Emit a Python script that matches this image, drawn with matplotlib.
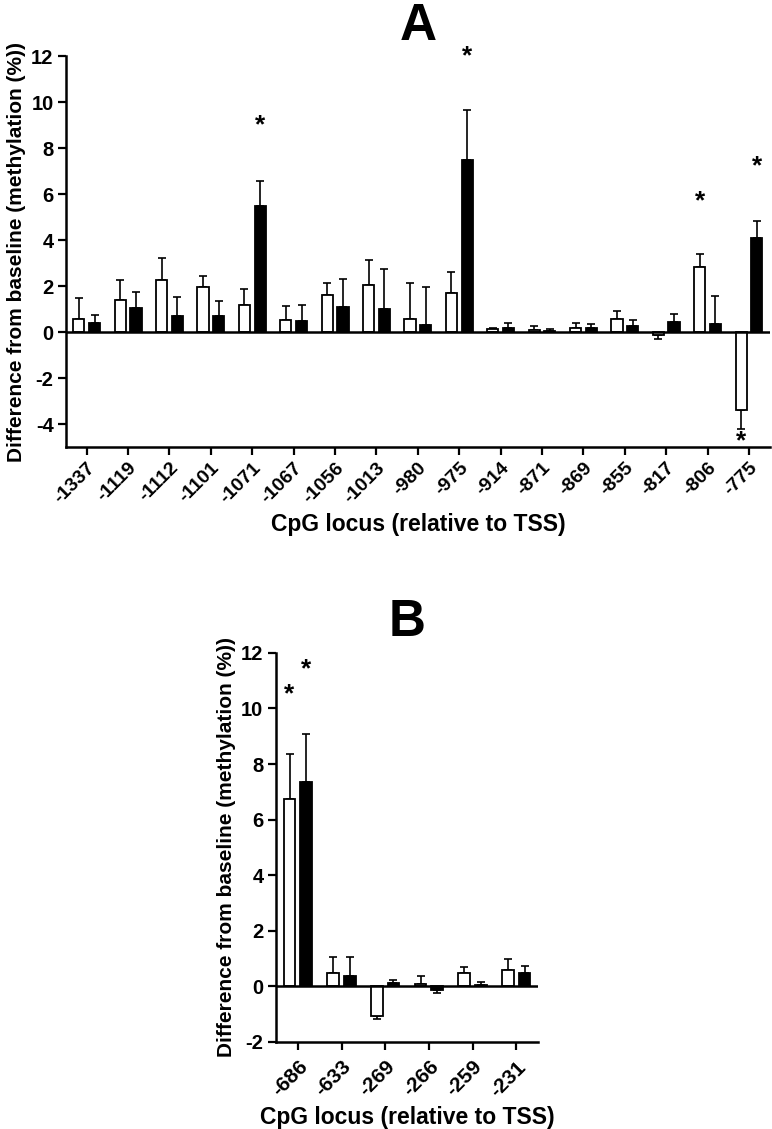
import numpy as np
import matplotlib
matplotlib.use("Agg")
import matplotlib.pyplot as plt

plt.rcParams["font.family"] = ["Liberation Sans", "DejaVu Sans"]
plt.rcParams["font.weight"] = "bold"
plt.rcParams["axes.unicode_minus"] = False

# Panel A: CpG loci (relative to TSS)
loci_a = ["-1337", "-1119", "-1112", "-1101", "-1071", "-1067", "-1056", "-1013",
          "-980", "-975", "-914", "-871", "-869", "-855", "-817", "-806", "-775"]
white_a = [0.59, 1.38, 2.26, 1.96, 1.20, 0.52, 1.61, 2.04, 0.59, 1.72,
           0.12, 0.09, 0.20, 0.57, -0.12, 2.84, -3.40]
white_a_err = [0.90, 0.87, 0.97, 0.49, 0.70, 0.64, 0.52, 1.08, 1.57, 0.90,
               0.07, 0.16, 0.18, 0.37, 0.17, 0.58, 0.83]
black_a = [0.41, 1.06, 0.70, 0.71, 5.47, 0.48, 1.09, 1.03, 0.33, 7.51,
           0.17, 0.06, 0.17, 0.26, 0.45, 0.35, 4.08]
black_a_err = [0.33, 0.68, 0.81, 0.65, 1.13, 0.72, 1.21, 1.74, 1.63, 2.17,
               0.24, 0.09, 0.18, 0.25, 0.36, 1.24, 0.77]
# significance marks: (locus index, series, y)
stars_a = [(4, "black", 9.0), (9, "black", 12.0), (15, "white", 5.7),
           (16, "black", 7.2), (16, "white", -4.75)]

# Panel B
loci_b = ["-686", "-633", "-269", "-266", "-259", "-231"]
white_b = [6.74, 0.47, -1.05, 0.10, 0.47, 0.59]
white_b_err = [1.61, 0.60, 0.11, 0.28, 0.21, 0.40]
black_b = [7.37, 0.38, 0.13, -0.14, 0.06, 0.47]
black_b_err = [1.71, 0.67, 0.10, 0.11, 0.10, 0.25]
stars_b = [(0, "white", 10.5), (0, "black", 11.4)]

W = 0.27      # bar width (group units)
OFF = 0.19    # half distance between paired bars


def one_sided(vals, errs):
    v = np.asarray(vals); e = np.asarray(errs)
    lower = np.where(v < 0, e, 0)
    upper = np.where(v >= 0, e, 0)
    return [lower, upper]


def panel(ax, loci, white, werr, black, berr, stars, ylim, yticks, title, xts, xpad):
    x = np.arange(len(loci))
    for xs, vals, errs, fc in ((x - OFF, white, werr, "white"),
                               (x + OFF, black, berr, "black")):
        ax.bar(xs, vals, W, color=fc, edgecolor="black", linewidth=1.3, zorder=2)
        ax.errorbar(xs, vals, yerr=one_sided(vals, errs), fmt="none",
                    ecolor="black", elinewidth=1.2, capsize=3, capthick=1.2, zorder=1)
    for i, s, y in stars:
        xi = i - OFF if s == "white" else i + OFF
        ax.text(xi, y, "*", ha="center", va="center", fontsize=19, fontweight="bold")
    ax.axhline(0, color="black", linewidth=1.8, zorder=3)
    ax.set_xlim(-0.5, len(loci) - 0.5)
    ax.set_ylim(*ylim)
    ax.set_yticks(yticks)
    ax.set_xticks(x)
    ax.set_xticklabels(loci, rotation=45, ha="right", rotation_mode="anchor",
                       fontsize=xts)
    for side in ("top", "right"):
        ax.spines[side].set_visible(False)
    for side in ("left", "bottom"):
        ax.spines[side].set_linewidth(1.8)
    ax.tick_params(width=1.6, length=6, pad=3)
    ax.tick_params(axis="x", pad=xpad)
    ax.tick_params(axis="y", labelsize=14.5)
    ax.set_ylabel("Difference from baseline (methylation (%))", fontsize=15,
                  fontweight="bold", labelpad=4)
    ax.set_xlabel("CpG locus (relative to TSS)", fontsize=16.5, fontweight="bold",
                  labelpad=4)
    ax.set_title(title, fontsize=37, fontweight="bold", pad=12)


fig = plt.figure(figsize=(7.72, 11.29), dpi=100)
ax_a = fig.add_axes([0.0855, 0.604, 0.9115, 0.346])
ax_b = fig.add_axes([0.3575, 0.0771, 0.3395, 0.3446])

panel(ax_a, loci_a, white_a, white_a_err, black_a, black_a_err, stars_a,
      (-5, 12), np.arange(-4, 13, 2), "A", 14, 3)
panel(ax_b, loci_b, white_b, white_b_err, black_b, black_b_err, stars_b,
      (-2, 12), np.arange(-2, 13, 2), "B", 15, 5)

fig.savefig("out.png", dpi=100)
